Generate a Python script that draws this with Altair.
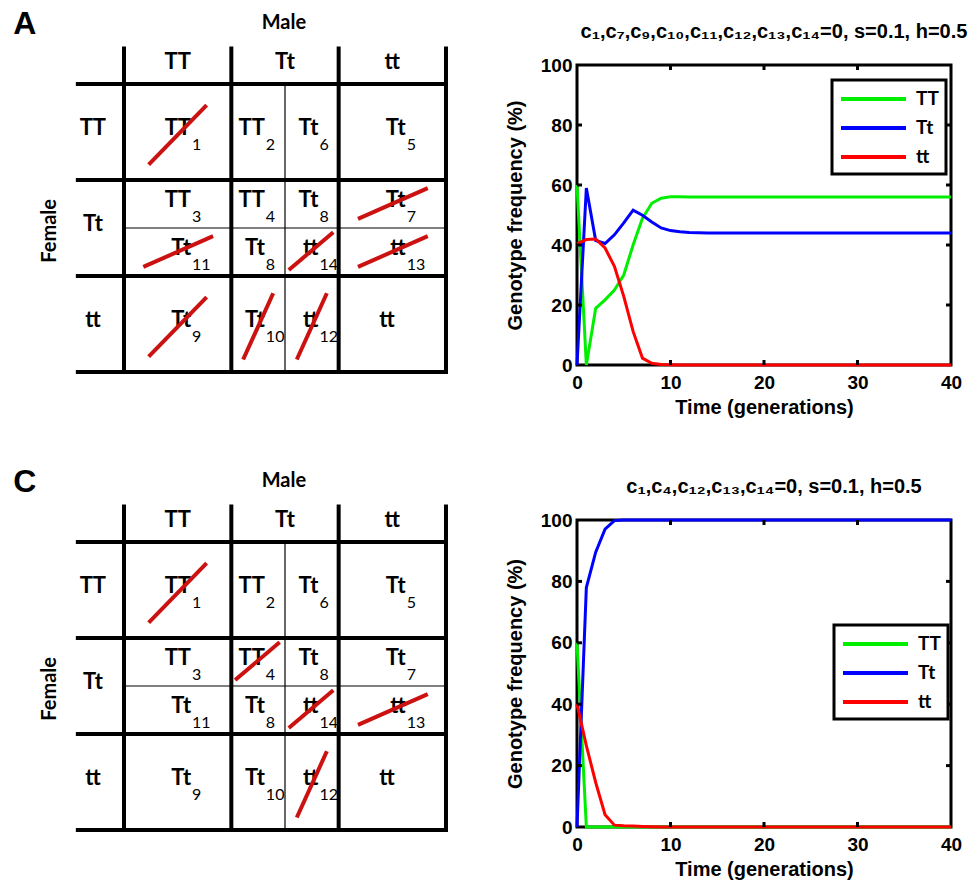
import altair as alt
import pandas as pd

# ---------------- simulation curves ----------------
TIME = list(range(41))
GENOTYPES = ["TT", "Tt", "tt"]
COLORS = ["#00ee00", "#0000ff", "#ff0000"]

B_TT = [60.0, 0.0, 18.9, 21.7, 25.0, 30.0, 40.0, 48.9, 53.9, 55.6,
        56.1, 56.1, 56.0, 56.0, 56.0, 56.0, 56.0, 56.0, 56.0, 56.0,
        56.0, 56.0, 56.0, 56.0, 56.0, 56.0, 56.0, 56.0, 56.0, 56.0,
        56.0, 56.0, 56.0, 56.0, 56.0, 56.0, 56.0, 56.0, 56.0, 56.0,
        56.0]
B_Tt = [0.0, 59.0, 41.5, 40.5, 43.4, 47.4, 51.6, 49.9, 47.7, 45.7,
        44.8, 44.4, 44.2, 44.1, 44.0, 44.0, 44.0, 44.0, 44.0, 44.0,
        44.0, 44.0, 44.0, 44.0, 44.0, 44.0, 44.0, 44.0, 44.0, 44.0,
        44.0, 44.0, 44.0, 44.0, 44.0, 44.0, 44.0, 44.0, 44.0, 44.0,
        44.0]
B_tt = [40.4, 41.8, 42.0, 39.0, 32.9, 22.9, 11.2, 2.3, 0.6, 0.2,
        0.1, 0.0, 0.0, 0.0, 0.0, 0.0, 0.0, 0.0, 0.0, 0.0,
        0.0, 0.0, 0.0, 0.0, 0.0, 0.0, 0.0, 0.0, 0.0, 0.0,
        0.0, 0.0, 0.0, 0.0, 0.0, 0.0, 0.0, 0.0, 0.0, 0.0,
        0.0]

D_TT = [60.0, 0.0, 0.0, 0.0, 0.0, 0.0, 0.0, 0.0, 0.0, 0.0,
        0.0, 0.0, 0.0, 0.0, 0.0, 0.0, 0.0, 0.0, 0.0, 0.0,
        0.0, 0.0, 0.0, 0.0, 0.0, 0.0, 0.0, 0.0, 0.0, 0.0,
        0.0, 0.0, 0.0, 0.0, 0.0, 0.0, 0.0, 0.0, 0.0, 0.0,
        0.0]
D_Tt = [0.0, 78.0, 89.5, 97.0, 99.8, 100.0, 100.0, 100.0, 100.0, 100.0,
        100.0, 100.0, 100.0, 100.0, 100.0, 100.0, 100.0, 100.0, 100.0, 100.0,
        100.0, 100.0, 100.0, 100.0, 100.0, 100.0, 100.0, 100.0, 100.0, 100.0,
        100.0, 100.0, 100.0, 100.0, 100.0, 100.0, 100.0, 100.0, 100.0, 100.0,
        100.0]
D_tt = [40.0, 26.5, 14.5, 4.0, 0.6, 0.4, 0.3, 0.2, 0.1, 0.0,
        0.0, 0.0, 0.0, 0.0, 0.0, 0.0, 0.0, 0.0, 0.0, 0.0,
        0.0, 0.0, 0.0, 0.0, 0.0, 0.0, 0.0, 0.0, 0.0, 0.0,
        0.0, 0.0, 0.0, 0.0, 0.0, 0.0, 0.0, 0.0, 0.0, 0.0,
        0.0]

X_TICKS = [0, 10, 20, 30, 40]
Y_TICKS = [0, 20, 40, 60, 80, 100]
X_MINOR = [10, 20, 30]
Y_MINOR = [20, 40, 60, 80]

TITLE_B = "c\u2081,c\u2087,c\u2089,c\u2081\u2080,c\u2081\u2081,c\u2081\u2082,c\u2081\u2083,c\u2081\u2084=0, s=0.1, h=0.5"
TITLE_D = "c\u2081,c\u2084,c\u2081\u2082,c\u2081\u2083,c\u2081\u2084=0, s=0.1, h=0.5"

# ---------------- mating tables ----------------
ROW_LABELS = ["TT", "Tt", "tt"]     # female genotype
COL_LABELS = ["TT", "Tt", "tt"]     # male genotype
CELL_MAIN = ["TT", "TT", "Tt", "Tt", "TT", "Tt", "TT", "Tt", "Tt", "tt", "Tt", "tt", "Tt", "Tt", "tt", "tt"]
CELL_SUB = ["1", "2", "6", "5", "3", "11", "4", "8", "8", "14", "7", "13", "9", "10", "12", ""]
CELL_ROW = [0, 0, 0, 0, 1, 1, 1, 1, 1, 1, 1, 1, 2, 2, 2, 2]
CELL_ROWPART = ["full", "full", "full", "full", "a", "b", "a", "a", "b", "b", "a", "b",
                "full", "full", "full", "full"]
CELL_COL = [0, 1, 1, 2, 0, 0, 1, 1, 1, 1, 2, 2, 0, 1, 1, 2]
CELL_COLPART = ["full", "a", "b", "full", "full", "full", "a", "b", "a", "b", "full", "full",
                "full", "a", "b", "full"]
STRUCK_A = ["1", "7", "11", "14", "13", "9", "10", "12"]
STRUCK_C = ["1", "4", "14", "13", "12"]

# table geometry (pixels per table unit) and style
COL_PX = 107.33
ROW_PX = 96.0
TABLE_LEFT_PX = 123.0
HEADER_TOP = -0.37
LABEL_LEFT = -0.43
STRIKE_SHAPE = {  # (x from, x to, y from, y to) as fractions of the cell
    (1.0, 1.0): (0.23, 0.77, 0.84, 0.22),
    (1.0, 0.5): (0.18, 0.83, 0.81, 0.17),
    (0.5, 1.0): (0.22, 0.78, 0.87, 0.18),
    (0.5, 0.5): (0.07, 0.90, 0.875, 0.09),
}
RED = "#cc1111"
TFONT = "Lato"
AFONT = "Liberation Sans"


def span(idx, part):
    if part == "full":
        return idx, idx + 1.0
    if part == "a":
        return idx, idx + 0.5
    return idx + 0.5, idx + 1.0


def table_panel(struck, letter, H, row0_px):
    W = 470
    xs = alt.Scale(domain=[-TABLE_LEFT_PX / COL_PX, (W - TABLE_LEFT_PX) / COL_PX], nice=False, zero=False)
    ys = alt.Scale(domain=[-row0_px / ROW_PX, (H - row0_px) / ROW_PX], nice=False, zero=False, reverse=True)

    def X(f):
        return alt.X(f, type="quantitative", scale=xs, axis=None)

    def Y(f):
        return alt.Y(f, type="quantitative", scale=ys, axis=None)

    main_rows, plain_rows, strike_rows = [], [], []
    for m, s, r, rp, c, cp in zip(CELL_MAIN, CELL_SUB, CELL_ROW, CELL_ROWPART, CELL_COL, CELL_COLPART):
        x0, x1 = span(c, cp)
        y0, y1 = span(r, rp)
        w, h = x1 - x0, y1 - y0
        xc, yc = (x0 + x1) / 2, (y0 + y1) / 2
        if s:
            main_rows.append({"x": xc + 0.125 * w, "y": yc, "main": m, "sub": s})
        else:
            plain_rows.append({"x": xc - 0.05, "y": yc, "main": m})
        if s in struck:
            a, b, cc, d = STRIKE_SHAPE[(w, h)]
            strike_rows.append({"x": x0 + a * w, "x2": x0 + b * w, "y": y0 + cc * h, "y2": y0 + d * h})

    thick = [{"x": c, "x2": c, "y": HEADER_TOP, "y2": 3.0} for c in range(4)] + \
            [{"x": LABEL_LEFT, "x2": 3.0, "y": r, "y2": r} for r in range(4)]
    thin = [{"x": 1.5, "x2": 1.5, "y": 0.0, "y2": 3.0}, {"x": 0.0, "x2": 3.0, "y": 1.5, "y2": 1.5}]
    rowlab = pd.DataFrame({"x": [-0.29] * 3, "y": [i + 0.5 for i in range(3)], "t": ROW_LABELS})
    collab = pd.DataFrame({"x": [i + 0.5 for i in range(3)], "y": [-0.1875] * 3, "t": COL_LABELS})

    l_thick = alt.Chart(pd.DataFrame(thick)).mark_rule(color="black", strokeWidth=4, strokeCap="square").encode(
        x=X("x"), x2="x2:Q", y=Y("y"), y2="y2:Q")
    l_thin = alt.Chart(pd.DataFrame(thin)).mark_rule(color="black", strokeWidth=1.2).encode(
        x=X("x"), x2="x2:Q", y=Y("y"), y2="y2:Q")
    cells = pd.DataFrame(main_rows)
    l_main = alt.Chart(cells).mark_text(align="right", baseline="alphabetic", dy=3, font=TFONT,
                                        fontSize=22, fontWeight="bold", color="black").encode(
        x=X("x"), y=Y("y"), text="main:N")
    l_sub = alt.Chart(cells).mark_text(align="left", baseline="alphabetic", dy=18, dx=1, font=TFONT,
                                       fontSize=16, color="black").encode(
        x=X("x"), y=Y("y"), text="sub:N")
    l_plain = alt.Chart(pd.DataFrame(plain_rows)).mark_text(align="center", baseline="alphabetic", dy=3,
                                                             font=TFONT, fontSize=22, fontWeight="bold",
                                                             color="black").encode(
        x=X("x"), y=Y("y"), text="main:N")
    l_rowlab = alt.Chart(rowlab).mark_text(align="center", baseline="alphabetic", dy=3, font=TFONT,
                                           fontSize=22, fontWeight="bold", color="black").encode(
        x=X("x"), y=Y("y"), text="t:N")
    l_collab = alt.Chart(collab).mark_text(align="center", baseline="alphabetic", dy=3, font=TFONT,
                                           fontSize=22, fontWeight="bold", color="black").encode(
        x=X("x"), y=Y("y"), text="t:N")
    male = alt.Chart(pd.DataFrame({"x": [1.49], "y": [-0.573], "t": ["Male"]})).mark_text(
        align="center", baseline="alphabetic", font=TFONT, fontSize=20, fontWeight="bold", color="black").encode(
        x=X("x"), y=Y("y"), text="t:N")
    female = alt.Chart(pd.DataFrame({"x": [-0.69], "y": [1.53], "t": ["Female"]})).mark_text(
        align="center", baseline="middle", angle=270, font=TFONT, fontSize=20, fontWeight="bold",
        color="black").encode(x=X("x"), y=Y("y"), text="t:N")
    let = alt.Chart(pd.DataFrame({"x": [-0.925], "y": [-0.52], "t": [letter]})).mark_text(
        align="center", baseline="alphabetic", font=AFONT, fontSize=32, fontWeight="bold", color="black").encode(
        x=X("x"), y=Y("y"), text="t:N")
    l_strike = alt.Chart(pd.DataFrame(strike_rows)).mark_rule(color=RED, strokeWidth=4).encode(
        x=X("x"), x2="x2:Q", y=Y("y"), y2="y2:Q")

    return alt.layer(l_thick, l_thin, l_main, l_sub, l_plain, l_rowlab, l_collab, male, female, let,
                     l_strike).properties(width=W, height=H, view=alt.ViewBackground(stroke="transparent"))


def freq_panel(v_TT, v_Tt, v_tt, title, H, lx, ly):
    W = 374
    rows = []
    for g, vals in zip(GENOTYPES, (v_TT, v_Tt, v_tt)):
        for t, v in zip(TIME, vals):
            rows.append({"time": t, "freq": v, "genotype": g})
    df = pd.DataFrame(rows)
    xs = alt.Scale(domain=[0, 40], nice=False, zero=False)
    ys = alt.Scale(domain=[0, 100], nice=False, zero=False)
    lines = alt.Chart(df).mark_line(strokeWidth=3).encode(
        x=alt.X("time:Q", scale=xs, axis=alt.Axis(values=X_TICKS, title="Time (generations)",
                                                    labelPadding=8, titlePadding=5)),
        y=alt.Y("freq:Q", scale=ys, axis=alt.Axis(values=Y_TICKS, title="Genotype frequency (%)",
                                                    labelPadding=5, titlePadding=15)),
        color=alt.Color("genotype:N", scale=alt.Scale(domain=GENOTYPES, range=COLORS),
                        legend=alt.Legend(title=None, orient="none", legendX=lx, legendY=ly,
                                          symbolType="M-1,0H5.5", symbolSize=400, symbolStrokeWidth=4,
                                          labelOffset=53, labelFont=TFONT, labelFontSize=19,
                                          labelFontWeight="bold", labelColor="black", rowPadding=7,
                                          strokeColor="black", fillColor="white")),
    )
    xt = pd.DataFrame({"time": X_MINOR})
    yt = pd.DataFrame({"freq": Y_MINOR})
    tb = alt.Chart(xt).mark_rule(color="black", strokeWidth=3).encode(
        x=alt.X("time:Q", scale=xs), y=alt.value(H), y2=alt.value(H - 5))
    ttop = alt.Chart(xt).mark_rule(color="black", strokeWidth=3).encode(
        x=alt.X("time:Q", scale=xs), y=alt.value(0), y2=alt.value(5))
    tl = alt.Chart(yt).mark_rule(color="black", strokeWidth=3).encode(
        y=alt.Y("freq:Q", scale=ys), x=alt.value(0), x2=alt.value(5))
    tr = alt.Chart(yt).mark_rule(color="black", strokeWidth=3).encode(
        y=alt.Y("freq:Q", scale=ys), x=alt.value(W), x2=alt.value(W - 5))
    return alt.layer(lines, tb, ttop, tl, tr).properties(
        width=W, height=H,
        view=alt.ViewBackground(stroke="black", strokeWidth=3),
        title=alt.Title(title, font=AFONT, fontSize=20, fontWeight="bold", color="black",
                        anchor="middle", frame="group", offset=14, dx=10),
    )


panel_a = table_panel(STRUCK_A, "A", 300, 19.0)
panel_b = freq_panel(B_TT, B_Tt, B_tt, TITLE_B, 300, 255, 15)
panel_c = table_panel(STRUCK_C, "C", 307, 22.0)
panel_d = freq_panel(D_TT, D_Tt, D_tt, TITLE_D, 307, 257, 105)

chart = alt.concat(
    panel_a, panel_b, panel_c, panel_d,
    columns=2, spacing={"row": 155, "column": 106}, bounds="flush",
    padding={"left": 0, "top": 7, "right": 0, "bottom": 0},
).resolve_scale(color="independent").resolve_legend(color="independent").configure_axis(
    labelFont=AFONT, labelFontWeight="bold", labelFontSize=19, labelColor="black", labelFlush=False,
    titleFont=AFONT, titleFontWeight="bold", titleFontSize=20, titleColor="black",
    grid=False, domain=False, ticks=False, tickSize=0,
).configure_legend(strokeWidth=3, padding=7)

chart.save("out.html", embed_options={"renderer": "svg", "actions": False})
